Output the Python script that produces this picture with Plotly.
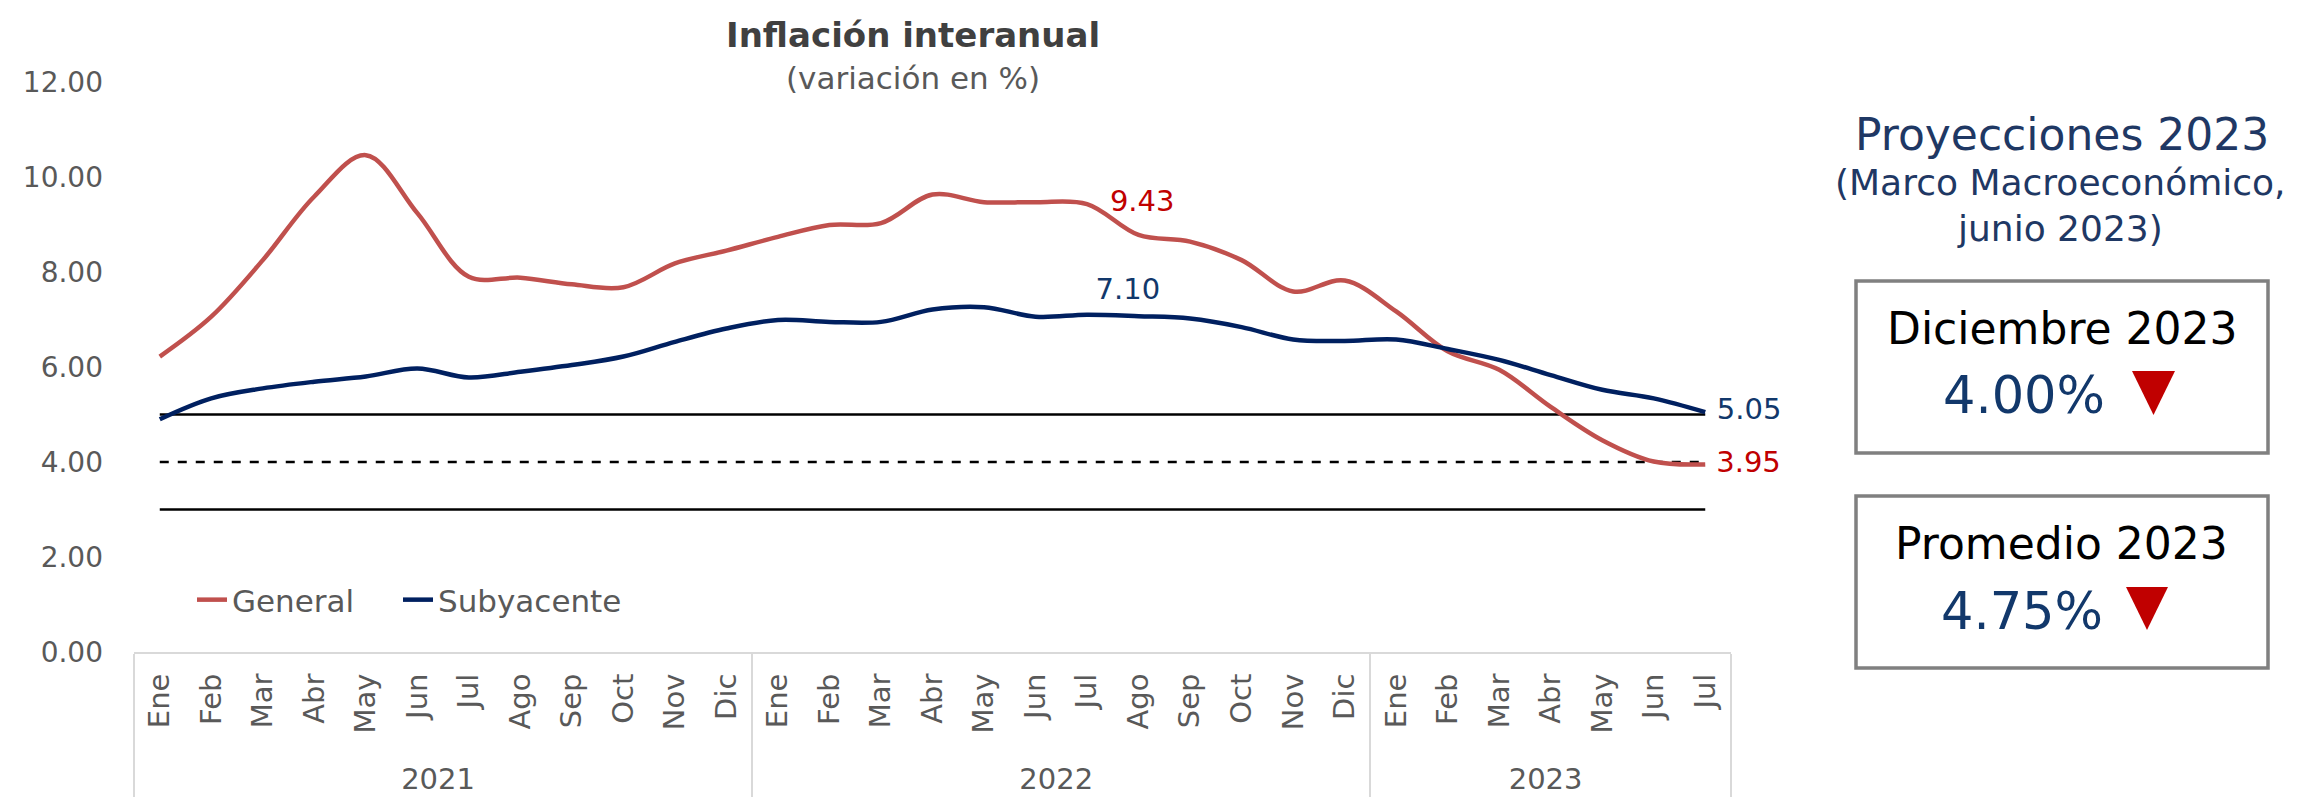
import plotly.graph_objects as go

# ---------------- data ----------------
years = ["2021"] * 12 + ["2022"] * 12 + ["2023"] * 7
months = (["Ene", "Feb", "Mar", "Abr", "May", "Jun", "Jul", "Ago", "Sep", "Oct", "Nov", "Dic"] * 2
          + ["Ene", "Feb", "Mar", "Abr", "May", "Jun", "Jul"])

general = [6.22, 7.06, 8.25, 9.59, 10.46, 9.24, 7.90, 7.88, 7.74, 7.68, 8.18, 8.45,
           8.74, 8.99, 9.03, 9.63, 9.47, 9.47, 9.43, 8.78, 8.64, 8.25, 7.59, 7.82,
           7.17, 6.33, 5.94, 5.16, 4.46, 4.01, 3.95]
subyacente = [4.90, 5.34, 5.55, 5.69, 5.80, 5.97, 5.78, 5.90, 6.04, 6.22, 6.53, 6.81,
              6.99, 6.95, 6.95, 7.21, 7.26, 7.06, 7.10, 7.07, 7.02, 6.84, 6.58, 6.55,
              6.58, 6.38, 6.15, 5.83, 5.52, 5.34, 5.05]

meta_central = [4.0] * 31
meta_superior = [5.0] * 31
meta_inferior = [3.0] * 31

general_label_idx = [18, 30]
subyacente_label_idx = [18, 30]

y_ticks = [0, 2, 4, 6, 8, 10, 12]

proy_title = "Proyecciones 2023"
proy_sub = ["(Marco Macroeconómico,", "junio 2023)"]
box_titles = ["Diciembre 2023", "Promedio 2023"]
box_values = ["4.00%", "4.75%"]

# ---------------- layout geometry (screen pixels) ----------------
BODY = 8                      # default page body margin before the plot div
SW, SH = 2300, 797            # screen size
PLOT_L, PLOT_R, PLOT_T, PLOT_B = 134, 1731, 82, 652
W, H = SW - BODY, SH - BODY
L = PLOT_L - BODY
T = PLOT_T - BODY
R = BODY + W - PLOT_R
B = BODY + H - PLOT_B
PW = PLOT_R - PLOT_L
PH = PLOT_B - PLOT_T


def px(x):
    return (x - PLOT_L) / PW


def py(y):
    return (PLOT_B - y) / PH


FONT = "DejaVu Sans"
GREY = "#595959"
RED_LINE = "#C0504D"
NAVY = "#002060"
NAVY_TXT = "#12386B"
RED_TXT = "#C00000"

fig = go.Figure()

# a leading no-break space gives the month labels a little more depth so the
# year row sits lower, as in the reference (the visible text is unchanged)
month_axis_labels = ["\u00a0" + m for m in months]
xcat = [years, month_axis_labels]

# reference lines (target band)
fig.add_trace(go.Scatter(x=xcat, y=meta_superior, mode="lines",
                         line=dict(color="black", width=2.5), showlegend=False, hoverinfo="skip"))
fig.add_trace(go.Scatter(x=xcat, y=meta_central, mode="lines",
                         line=dict(color="black", width=2.5, dash="9px,9px"), showlegend=False, hoverinfo="skip"))
fig.add_trace(go.Scatter(x=xcat, y=meta_inferior, mode="lines",
                         line=dict(color="black", width=2.5), showlegend=False, hoverinfo="skip"))

# series
fig.add_trace(go.Scatter(x=xcat, y=general, mode="lines", name="General", legend="legend",
                         line=dict(color=RED_LINE, width=4.5, shape="spline", smoothing=1.0)))
fig.add_trace(go.Scatter(x=xcat, y=subyacente, mode="lines", name="Subyacente", legend="legend2",
                         line=dict(color=NAVY, width=4.5, shape="spline", smoothing=1.0)))

# data labels
fig.add_trace(go.Scatter(
    x=[[years[i] for i in general_label_idx], [month_axis_labels[i] for i in general_label_idx]],
    y=[general[i] for i in general_label_idx],
    mode="markers+text",
    text=[f"{general[i]:.2f}" for i in general_label_idx],
    textposition=["middle right", "middle right"],
    marker=dict(size=[35, 16], color="rgba(0,0,0,0)", line=dict(width=0)),
    textfont=dict(family=FONT, size=29, color=RED_TXT),
    cliponaxis=False, showlegend=False, hoverinfo="skip"))
fig.add_trace(go.Scatter(
    x=[[years[i] for i in subyacente_label_idx], [month_axis_labels[i] for i in subyacente_label_idx]],
    y=[subyacente[i] for i in subyacente_label_idx],
    mode="markers+text",
    text=[f"{subyacente[i]:.2f}" for i in subyacente_label_idx],
    textposition=["top right", "middle right"],
    marker=dict(size=[12, 17], color="rgba(0,0,0,0)", line=dict(width=0)),
    textfont=dict(family=FONT, size=29, color=NAVY_TXT),
    cliponaxis=False, showlegend=False, hoverinfo="skip"))


def ann(text, x, y, size, color):
    return dict(text=text, x=px(x), y=py(y), xref="paper", yref="paper",
                showarrow=False, xanchor="center", yanchor="middle",
                font=dict(family=FONT, size=size, color=color))


annotations = [
    ann("<b>Inflación interanual</b>", 913, 35, 34, "#404040"),
    ann("(variación en %)", 913, 78, 31, GREY),
    ann(proy_title, 2062, 135, 44, "#1F3864"),
    ann(proy_sub[0], 2060, 182, 36, "#1F3864"),
    ann(proy_sub[1], 2060, 228, 36, "#1F3864"),
    ann(box_titles[0], 2062, 328, 44, "black"),
    ann(box_values[0], 2024, 396, 51, NAVY_TXT),
    ann(box_titles[1], 2061, 543, 44, "black"),
    ann(box_values[1], 2022, 611, 51, NAVY_TXT),
]

shapes = [
    dict(type="rect", xref="paper", yref="paper", x0=px(1856), x1=px(2268), y0=py(453), y1=py(281),
         line=dict(color="#808080", width=3.5), fillcolor="rgba(0,0,0,0)"),
    dict(type="rect", xref="paper", yref="paper", x0=px(1856), x1=px(2268), y0=py(668), y1=py(496),
         line=dict(color="#808080", width=3.5), fillcolor="rgba(0,0,0,0)"),
    dict(type="path", xref="paper", yref="paper",
         path=f"M {px(2132)},{py(371)} L {px(2175)},{py(371)} L {px(2153.5)},{py(415)} Z",
         fillcolor="#C00000", line=dict(width=0)),
    dict(type="path", xref="paper", yref="paper",
         path=f"M {px(2126)},{py(587)} L {px(2168)},{py(587)} L {px(2147)},{py(630)} Z",
         fillcolor="#C00000", line=dict(width=0)),
]

legend_style = dict(orientation="h", yanchor="middle", xanchor="left", y=py(600),
                    font=dict(family=FONT, size=31, color=GREY), bgcolor="rgba(0,0,0,0)")

fig.update_layout(
    width=W, height=H,
    margin=dict(l=L, r=R, t=T, b=B, pad=0, autoexpand=False),
    paper_bgcolor="white", plot_bgcolor="white",
    font=dict(family=FONT, color=GREY),
    showlegend=True,
    legend=dict(x=px(192), **legend_style),
    legend2=dict(x=px(398), **legend_style),
    annotations=annotations,
    shapes=shapes,
)

fig.update_xaxes(type="multicategory", range=[-0.5, 30.5], showgrid=False, zeroline=False,
                 showline=True, linecolor="#d9d9d9", linewidth=2,
                 tickangle=-90, tickfont=dict(family=FONT, size=29, color=GREY),
                 ticklabelstandoff=8,
                 showdividers=True, dividercolor="#d9d9d9", dividerwidth=2, ticks="")
fig.update_yaxes(range=[0, 12], tickvals=y_ticks, tickformat=".2f", showgrid=False, zeroline=False,
                 showline=False, ticks="", ticklabelstandoff=30,
                 tickfont=dict(family=FONT, size=28, color=GREY))

fig.write_html("out.html")
